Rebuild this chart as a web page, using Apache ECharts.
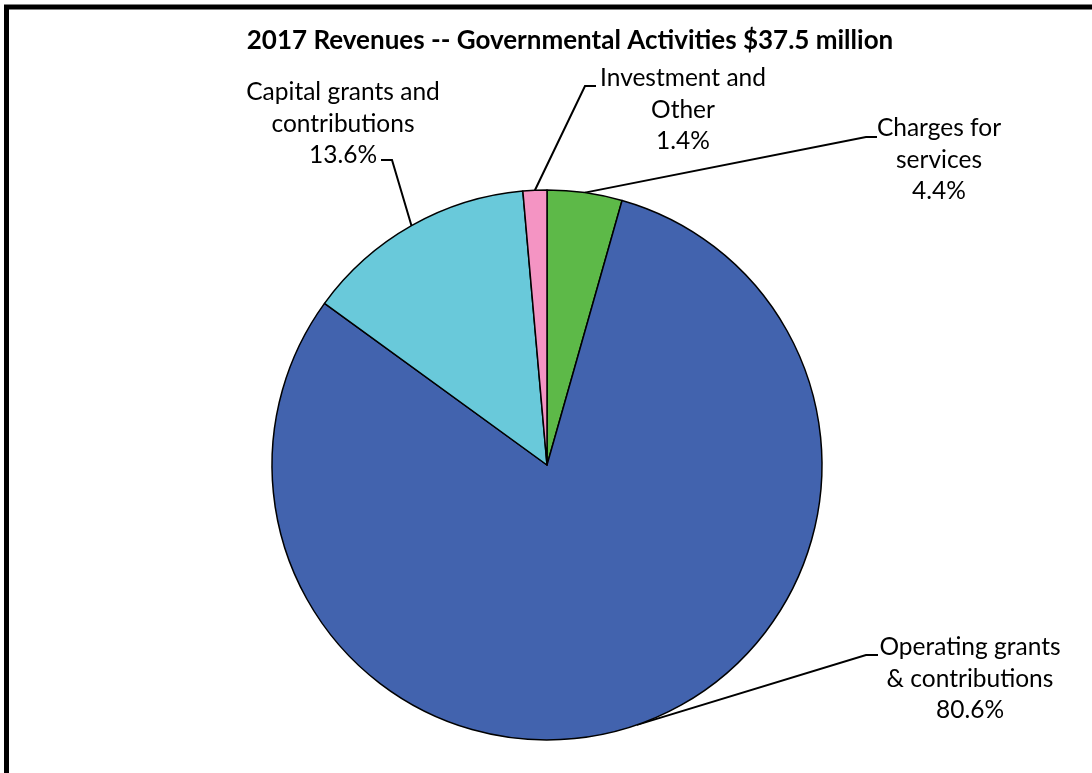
<!DOCTYPE html>
<html>
<head>
<meta charset="utf-8">
<script src="https://cdn.jsdelivr.net/npm/echarts@6/dist/echarts.min.js"></script>
<style>
html,body{margin:0;padding:0;background:#fff;}
#chart{width:1092px;height:773px;}
</style>
</head>
<body>
<div id="chart"></div>
<script>
// ---- data ----
const titleText = '2017 Revenues -- Governmental Activities $37.5 million';
const categories = ['Charges for\nservices', 'Operating grants\n& contributions', 'Capital grants and\ncontributions', 'Investment and\nOther'];
const values = [4.4, 80.6, 13.6, 1.4];
const colors = ['#5DB948', '#4263AE', '#69C9DA', '#F494C3'];

// ---- label layout (positions only) ----
const labelPos = [
  {x: 939, y: 160, bend: [866, 137], end: [877, 137]},
  {x: 970, y: 679, bend: [866, 655], end: [878, 655]},
  {x: 343, y: 124, bend: [392, 160], end: [381, 160]},
  {x: 683, y: 110, bend: [585, 86], end: [596, 86]}
];

const chart = echarts.init(document.getElementById('chart'), null, {renderer: 'canvas'});
chart.setOption({
  animation: false,
  backgroundColor: '#fff',
  title: {
    text: titleText,
    left: 565, top: 23, textAlign: 'center',
    textStyle: {fontFamily: 'Lato', fontWeight: 'bold', fontSize: 26, color: '#000'}
  },
  graphic: [{
    type: 'rect', silent: true,
    shape: {x: 6.5, y: 7, width: 1300, height: 1000},
    style: {fill: 'none', stroke: '#000', lineWidth: 5}
  }],
  series: [{
    type: 'pie',
    center: [547, 465],
    radius: 275,
    startAngle: 90,
    clockwise: true,
    data: categories.map((c, i) => ({name: c, value: values[i], itemStyle: {color: colors[i]}})),
    itemStyle: {borderColor: '#000', borderWidth: 1.5},
    label: {
      show: true, position: 'outside',
      formatter: p => p.name + '\n' + p.value.toFixed(1) + '%',
      fontFamily: 'Lato', fontSize: 24.5, lineHeight: 31.5, color: '#000', align: 'center'
    },
    labelLine: {show: true, lineStyle: {color: '#000', width: 2}, smooth: false},
    labelLayout: function (params) {
      const lp = labelPos[params.dataIndex];
      const p0 = params.labelLinePoints ? params.labelLinePoints[0] : null;
      return {
        x: lp.x, y: lp.y, align: 'center', verticalAlign: 'middle',
        labelLinePoints: p0 ? [p0, lp.bend, lp.end] : undefined
      };
    },
    emphasis: {disabled: true}
  }]
});
</script>
</body>
</html>
